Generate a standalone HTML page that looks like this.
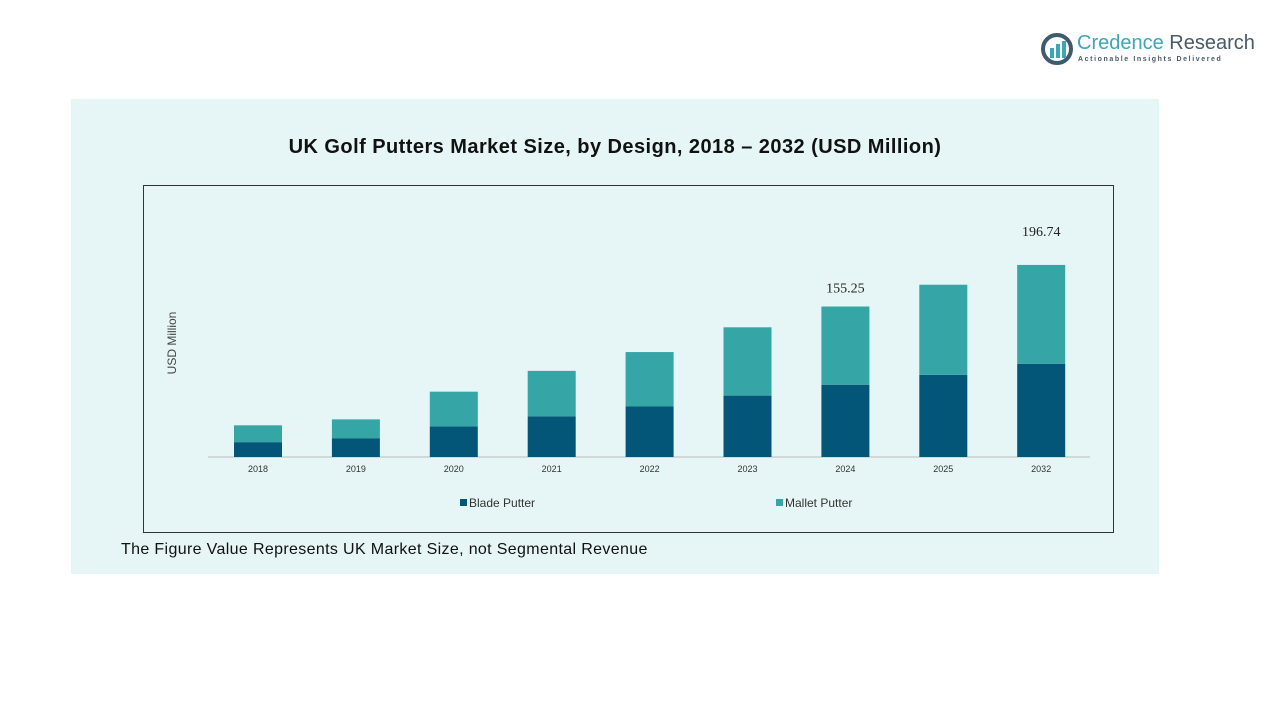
<!DOCTYPE html>
<html><head><meta charset="utf-8"><style>
body{margin:0;width:1280px;height:720px;background:#fff;position:relative;font-family:"Liberation Sans",sans-serif;overflow:hidden}
.abs{position:absolute}
</style></head><body>
<div class="abs" style="left:1040px;top:32px;width:215px;height:36px">
 <svg width="34" height="34" class="abs" style="left:0;top:0">
  <circle cx="17" cy="17" r="14" fill="none" stroke="#3e5a6e" stroke-width="4"/>
  <rect x="10" y="16" width="4" height="10" fill="#3aa6b9"/><rect x="16" y="12" width="4" height="14" fill="#3aa6b9"/><rect x="22" y="9" width="4" height="17" fill="#3aa6b9"/>
 </svg>
 <div class="abs" style="left:37px;top:0;font-size:20px;color:#3aa6b9;white-space:nowrap">Credence <span style="color:#4a5a66">Research</span></div>
 <div class="abs" style="left:38px;top:24px;font-size:7px;letter-spacing:1.6px;color:#4a5a66;font-weight:bold;white-space:nowrap">Actionable Insights Delivered</div>
</div>
<div class="abs" style="left:71px;top:99px;width:1088px;height:475px;background:#e6f5f5"></div>
<div class="abs" style="left:71px;top:136px;width:1088px;text-align:center;font-size:20px;letter-spacing:0.45px;font-weight:bold;color:#111">UK Golf Putters Market Size, by Design, 2018 – 2032 (USD Million)</div>
<div class="abs" style="left:143px;top:185px;width:971px;height:348px;border:1px solid #333;box-sizing:border-box"></div>
<div class="abs" style="left:122px;top:336px;width:100px;text-align:center;font-size:12px;color:#444;white-space:nowrap;transform:rotate(-90deg)">USD Million</div>
<svg class="abs" style="left:0;top:0" width="1280" height="720" id="chart"></svg>
<div class="abs" style="left:121px;top:541px;font-size:16px;letter-spacing:0.35px;color:#111">The Figure Value Represents UK Market Size, not Segmental Revenue</div>
<script>
const categories=["2018","2019","2020","2021","2022","2023","2024","2025","2032"];
const blade=[15,19,31,41,51,62,73,83,94];
const mallet=[17,19,35,46,55,69,79,91,100];
const labels=[null,null,null,null,null,null,"155.25",null,"196.74"];
const labelGap=[0,0,0,0,0,0,14,0,29];
const svg=document.getElementById('chart');
const NS="http://www.w3.org/2000/svg";
const base=457,k=0.99,x0=258,step=97.9,bw=48;
const yS=v=>v*k;
const xS=i=>x0+i*step;
function mk(t,a){const e=document.createElementNS(NS,t);for(const n in a)e.setAttribute(n,a[n]);svg.appendChild(e);return e;}
const ax=mk('line',{x1:208,x2:1090,y1:base,y2:base,stroke:'#bbb'});


categories.forEach((c,i)=>{
 const cx=xS(i),hb=yS(blade[i]),hm=yS(mallet[i]);
 const r1=mk('rect',{x:cx-bw/2,y:base-hb,width:bw,height:hb,fill:'#035677'});
 
 
 const r2=mk('rect',{x:cx-bw/2,y:base-hb-hm,width:bw,height:hm,fill:'#35a5a5'});
 
 
 const t=mk('text',{x:cx,y:base+15,'text-anchor':'middle','font-size':9,fill:'#333','font-family':'Liberation Sans'});
 t.textContent=c;
 
 
 if(labels[i]){const l=mk('text',{x:cx,y:base-hb-hm-labelGap[i],'text-anchor':'middle','font-size':14,fill:'#222','font-family':'Liberation Serif'});
 l.textContent=labels[i];
 
 }
});
[["Blade Putter","#035677",460],["Mallet Putter","#35a5a5",776]].forEach(([n,col,x])=>{
 const r=mk('rect',{x:x,y:499,width:7,height:7,fill:col});
 
 
 const t=mk('text',{x:x+9,y:507,'font-size':12,fill:'#333','font-family':'Liberation Sans'});
 t.textContent=n;
 
 
});
</script>
</body></html>
